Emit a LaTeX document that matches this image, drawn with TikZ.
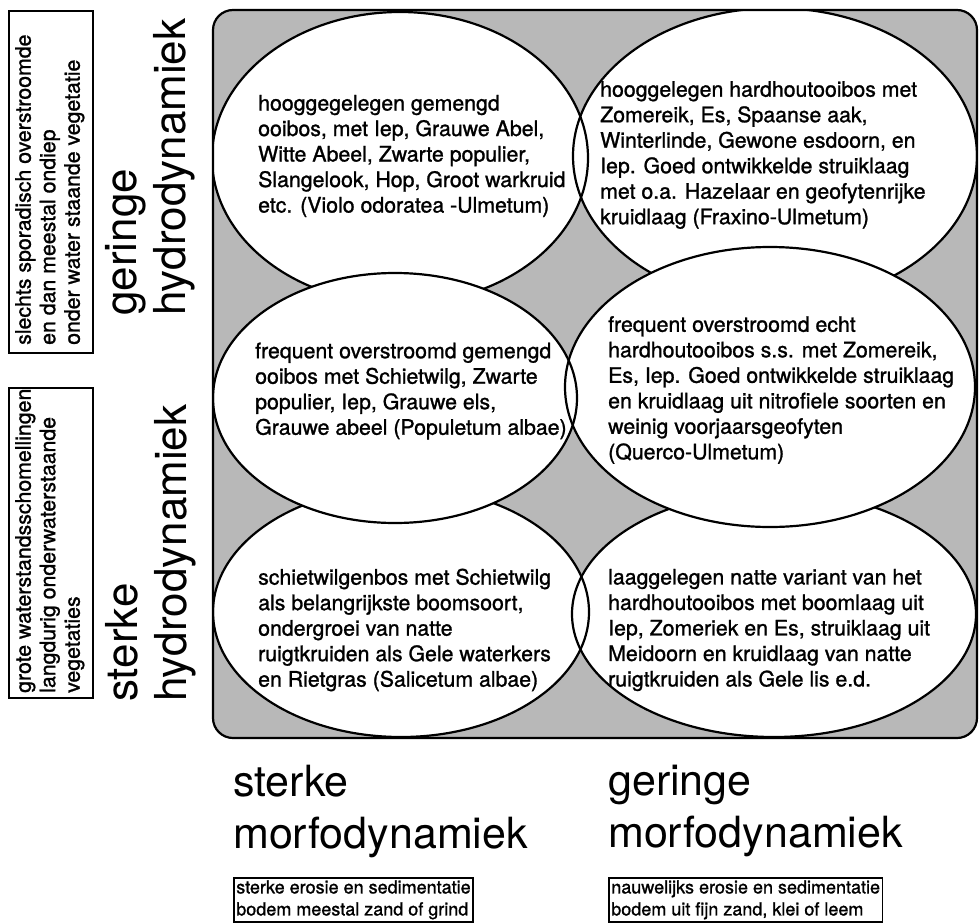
\documentclass[tikz,border=0pt]{standalone}
\usepackage{fontspec}
\setmainfont{TeX Gyre Heros}
\newfontfamily\heavyfont{TeX Gyre Heros}[FakeBold=1.2]
\begin{document}
\begin{tikzpicture}[x=1pt,y=-1pt,
  framefill/.style={fill=black!28},
  ellfill/.style={fill=white},
  ellline/.style={draw=black,line width=2.2pt},
  elltext/.style={align=left,inner sep=0pt,anchor=west,font=\heavyfont\fontsize{21.3}{25.5}\selectfont},
  sidebox/.style={draw=black,line width=1.6pt,inner sep=0pt,anchor=north west},
  sidetext/.style={rotate=90,align=left,inner sep=0pt,anchor=north west,font=\heavyfont\fontsize{21.3}{24.5}\selectfont},
  biglabel/.style={align=left,inner sep=0pt,anchor=north west,font=\fontsize{43}{52}\selectfont},
  bigrot/.style={rotate=90,align=left,inner sep=0pt,anchor=north west,font=\fontsize{44}{49}\selectfont},
  bottombox/.style={draw=black,line width=1.6pt,align=left,inner sep=2.5pt,anchor=north west,font=\heavyfont\fontsize{18}{22}\selectfont}
]
\useasboundingbox (0,0) rectangle (979,923);
% grey frame
\fill[framefill,rounded corners=20pt] (213,10) rectangle (977,738);
\begin{scope}
  \clip[rounded corners=20pt] (213,10) rectangle (977,738);
  % outer row ellipses
  \path[ellfill] (400,158) ellipse [x radius=188,y radius=146];
  \path[ellfill] (775,156) ellipse [x radius=202,y radius=148];
  \path[ellfill] (401,612) ellipse [x radius=188,y radius=125];
  \path[ellfill] (774,614) ellipse [x radius=202,y radius=123];
  \path[ellline] (400,158) ellipse [x radius=188,y radius=146];
  \path[ellline] (775,156) ellipse [x radius=202,y radius=148];
  \path[ellline] (401,612) ellipse [x radius=188,y radius=125];
  \path[ellline] (774,614) ellipse [x radius=202,y radius=123];
  % middle row ellipses on top
  \path[ellfill] (395,398) ellipse [x radius=182,y radius=125];
  \path[ellfill] (770,387) ellipse [x radius=205,y radius=140];
  \path[ellline] (395,398) ellipse [x radius=182,y radius=125];
  \path[ellline] (770,387) ellipse [x radius=205,y radius=140];
\end{scope}
\draw[line width=2.2pt,rounded corners=20pt] (213,10) rectangle (977,738);

% ellipse texts
\node[elltext] (tl) at (258,156) {hooggegelegen gemengd\\ooibos, met Iep, Grauwe Abel,\\Witte Abeel, Zwarte populier,\\Slangelook, Hop, Groot warkruid\\etc. (Violo odoratea -Ulmetum)};
\node[elltext] (tr) at (600,155) {hooggelegen hardhoutooibos met\\Zomereik, Es, Spaanse aak,\\Winterlinde, Gewone esdoorn, en\\Iep. Goed ontwikkelde struiklaag\\met o.a. Hazelaar en geofytenrijke\\kruidlaag (Fraxino-Ulmetum)};
\node[elltext] (ml) at (255,391) {frequent overstroomd gemengd\\ooibos met Schietwilg, Zwarte\\populier, Iep, Grauwe els,\\Grauwe abeel (Populetum albae)};
\node[elltext] (mr) at (608,390) {frequent overstroomd echt\\hardhoutooibos s.s. met Zomereik,\\Es, Iep. Goed ontwikkelde struiklaag\\en kruidlaag uit nitrofiele soorten en\\weinig voorjaarsgeofyten\\(Querco-Ulmetum)};
\node[elltext] (bl) at (258,630) {schietwilgenbos met Schietwilg\\als belangrijkste boomsoort,\\ondergroei van natte\\ruigtkruiden als Gele waterkers\\en Rietgras (Salicetum albae)};
\node[elltext] (br) at (608,630) {laaggelegen natte variant van het\\hardhoutooibos met boomlaag uit\\Iep, Zomeriek en Es, struiklaag uit\\Meidoorn en kruidlaag van natte\\ruigtkruiden als Gele lis e.d.};

% left side boxes
\node[sidebox,minimum width=84pt,minimum height=342pt] (boxa) at (8,10) {};
\node[sidetext] (texta) at (15,345) {slechts sporadisch overstroomde\\en dan meestal ondiep\\onder water staande vegetatie};
\node[sidebox,minimum width=84pt,minimum height=310pt] (boxb) at (8,387) {};
\node[sidetext] (textb) at (15,693) {grote waterstandsschomellingen\\langdurig onderwaterstaande\\vegetaties};

% rotated big labels
\node[bigrot] (geringeh) at (105,316) {geringe\\hydrodynamiek};
\node[bigrot] (sterkeh) at (105,702) {sterke\\hydrodynamiek};

% bottom labels
\node[biglabel] (sterkem) at (233,765) {sterke\\morfodynamiek};
\node[biglabel] (geringem) at (608,765) {geringe\\morfodynamiek};
\node[bottombox] (boxc) at (233,877) {sterke erosie en sedimentatie\\bodem meestal zand of grind};
\node[bottombox] (boxd) at (608,877) {nauwelijks erosie en sedimentatie\\bodem uit fijn zand, klei of leem};
\end{tikzpicture}
\end{document}
